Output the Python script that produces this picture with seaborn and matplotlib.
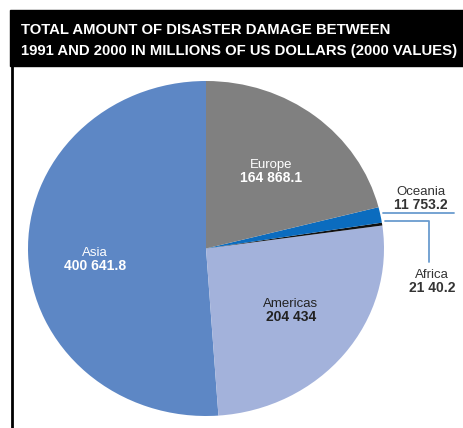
import matplotlib
matplotlib.use("Agg")
import matplotlib.pyplot as plt
from matplotlib.patches import Rectangle
from matplotlib.lines import Line2D
import seaborn as sns

# Disaster damage 1991-2000, millions of US dollars (2000 values)
regions = ["Asia", "Americas", "Africa", "Oceania", "Europe"]
damage = [400641.8, 204434.0, 2140.2, 11753.2, 164868.1]
value_labels = ["400 641.8", "204 434", "21 40.2", "11 753.2", "164 868.1"]
colors = ["#5d87c5", "#a3b2db", "#111111", "#0b6cbf", "#808080"]

sns.set_style("white")
plt.rcParams["font.family"] = ["Liberation Sans", "DejaVu Sans"]

W, H = 463, 428
fig = plt.figure(figsize=(W / 100, H / 100), dpi=100)


def fx(px):
    return px / W


def fy(py):
    return 1 - py / H


# Pie area (slightly wider than tall)
left, top, right, bottom = 28, 81, 384, 416
ax = fig.add_axes([fx(left), fy(bottom), fx(right - left), (bottom - top) / H])
ax.pie(damage, colors=colors, startangle=90, counterclock=True,
       wedgeprops=dict(linewidth=0))
ax.set_aspect("auto")
ax.set_xlim(-1, 1)
ax.set_ylim(-1, 1)
ax.axis("off")

# Title bar and left rule
fig.patches.append(Rectangle((fx(10), fy(66)), 1 - fx(10), (66 - 10) / H,
                             transform=fig.transFigure, color="black", zorder=0))
fig.lines.append(Line2D([fx(11.5), fx(11.5)], [fy(66), 0], transform=fig.transFigure,
                        color="black", linewidth=2))
title_lines = ["TOTAL AMOUNT OF DISASTER DAMAGE BETWEEN",
               "1991 AND 2000 IN MILLIONS OF US DOLLARS (2000 VALUES)"]
fig.text(fx(21), fy(34), title_lines[0], color="white", fontsize=10.7,
         fontweight="bold", va="baseline", ha="left")
fig.text(fx(21), fy(55), title_lines[1], color="white", fontsize=10.7,
         fontweight="bold", va="baseline", ha="left")

# Slice labels: (name x, name baseline y, colour)
label_pos = {
    "Asia": (95, 256, "white"),
    "Americas": (291, 307, "#222222"),
    "Africa": (432, 278, "#333333"),
    "Oceania": (421, 195, "#333333"),
    "Europe": (271, 168, "white"),
}
for name, val in zip(regions, value_labels):
    x, y, c = label_pos[name]
    fig.text(fx(x), fy(y), name, color=c, fontsize=9.5, ha="center", va="baseline")
    fig.text(fx(x), fy(y + 14), val, color=c, fontsize=10, fontweight="bold",
             ha="center", va="baseline")

# Leader lines for the thin slices
lc = "#6a9ccf"
fig.lines.append(Line2D([fx(383), fx(454)], [fy(213), fy(213)],
                        transform=fig.transFigure, color=lc, linewidth=1.3))
fig.lines.append(Line2D([fx(385), fx(429), fx(429)], [fy(221), fy(221), fy(262)],
                        transform=fig.transFigure, color=lc, linewidth=1.3))

fig.savefig("out.png", dpi=100, facecolor="white")
